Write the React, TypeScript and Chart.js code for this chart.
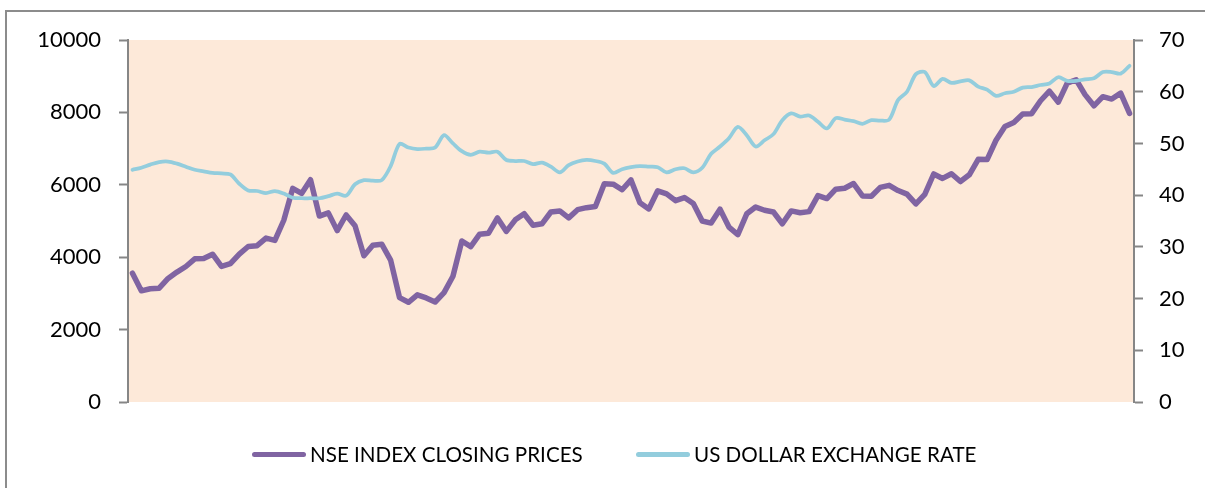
import React, { useEffect, useRef } from "react";
import { Chart, registerables } from "chart.js";

Chart.register(...registerables);

// ---- Data ----
const months: string[] = [
  "Apr-06", "May-06", "Jun-06", "Jul-06", "Aug-06", "Sep-06", "Oct-06", "Nov-06", "Dec-06",
  "Jan-07", "Feb-07", "Mar-07", "Apr-07", "May-07", "Jun-07", "Jul-07", "Aug-07", "Sep-07", "Oct-07", "Nov-07", "Dec-07",
  "Jan-08", "Feb-08", "Mar-08", "Apr-08", "May-08", "Jun-08", "Jul-08", "Aug-08", "Sep-08", "Oct-08", "Nov-08", "Dec-08",
  "Jan-09", "Feb-09", "Mar-09", "Apr-09", "May-09", "Jun-09", "Jul-09", "Aug-09", "Sep-09", "Oct-09", "Nov-09", "Dec-09",
  "Jan-10", "Feb-10", "Mar-10", "Apr-10", "May-10", "Jun-10", "Jul-10", "Aug-10", "Sep-10", "Oct-10", "Nov-10", "Dec-10",
  "Jan-11", "Feb-11", "Mar-11", "Apr-11", "May-11", "Jun-11", "Jul-11", "Aug-11", "Sep-11", "Oct-11", "Nov-11", "Dec-11",
  "Jan-12", "Feb-12", "Mar-12", "Apr-12", "May-12", "Jun-12", "Jul-12", "Aug-12", "Sep-12", "Oct-12", "Nov-12", "Dec-12",
  "Jan-13", "Feb-13", "Mar-13", "Apr-13", "May-13", "Jun-13", "Jul-13", "Aug-13", "Sep-13", "Oct-13", "Nov-13", "Dec-13",
  "Jan-14", "Feb-14", "Mar-14", "Apr-14", "May-14", "Jun-14", "Jul-14", "Aug-14", "Sep-14", "Oct-14", "Nov-14", "Dec-14",
  "Jan-15", "Feb-15", "Mar-15", "Apr-15", "May-15", "Jun-15", "Jul-15", "Aug-15",
];

const nseClosingPrices: number[] = [
  3557, 3071, 3128, 3143, 3413, 3588, 3744, 3955, 3966,
  4082, 3745, 3822, 4087, 4296, 4318, 4528, 4464, 5021, 5900, 5762, 6139,
  5137, 5224, 4734, 5166, 4870, 4040, 4333, 4360, 3921, 2885, 2755, 2959,
  2874, 2763, 3021, 3474, 4449, 4291, 4636, 4662, 5084, 4712, 5033, 5201,
  4882, 4922, 5249, 5278, 5087, 5313, 5368, 5402, 6030, 6018, 5863, 6135,
  5506, 5333, 5834, 5750, 5561, 5647, 5482, 5001, 4943, 5327, 4832, 4624,
  5199, 5385, 5296, 5248, 4924, 5279, 5229, 5259, 5703, 5620, 5880, 5905,
  6035, 5693, 5683, 5930, 5986, 5842, 5742, 5471, 5735, 6299, 6176, 6304,
  6090, 6277, 6704, 6696, 7230, 7611, 7721, 7954, 7965, 8322, 8588, 8283,
  8809, 8902, 8491, 8182, 8434, 8369, 8533, 7971,
];

const usDollarRate: number[] = [
  44.9, 45.3, 45.9, 46.4, 46.5, 46.1, 45.5, 44.9, 44.6,
  44.3, 44.2, 44.0, 42.2, 40.9, 40.8, 40.4, 40.8, 40.3, 39.5, 39.4, 39.4,
  39.4, 39.8, 40.3, 39.9, 42.1, 42.9, 42.8, 42.9, 45.6, 49.9, 49.2, 48.9,
  49.0, 49.2, 51.6, 50.0, 48.5, 47.8, 48.4, 48.2, 48.4, 46.8, 46.6, 46.6,
  46.0, 46.3, 45.5, 44.4, 45.8, 46.5, 46.8, 46.6, 46.1, 44.3, 45.0, 45.4,
  45.6, 45.5, 45.4, 44.4, 45.0, 45.2, 44.4, 45.3, 48.0, 49.4, 51.0, 53.2,
  51.6, 49.4, 50.6, 51.8, 54.5, 55.8, 55.2, 55.4, 54.2, 52.9, 54.9, 54.6,
  54.3, 53.8, 54.5, 54.4, 54.6, 58.4, 60.0, 63.4, 63.8, 61.1, 62.5, 61.7,
  62.0, 62.2, 61.0, 60.4, 59.2, 59.7, 60.0, 60.8, 60.9, 61.3, 61.6, 62.8,
  62.1, 62.1, 62.4, 62.6, 63.8, 63.8, 63.5, 65.0,
];

const leftTicks: number[] = [0, 2000, 4000, 6000, 8000, 10000];
const rightTicks: number[] = [0, 10, 20, 30, 40, 50, 60, 70];

const seriesNames: string[] = ["NSE INDEX CLOSING PRICES", "US DOLLAR EXCHANGE RATE"];

// ---- Style ----
const NSE_COLOR = "#8064A2";
const USD_COLOR = "#93CDDD";
const PLOT_BG = "#FDE9D9";
const AXIS_COLOR = "#868686";
const FONT = "Lato, 'Open Sans', sans-serif";

const plotBackground = {
  id: "plotBackground",
  beforeDraw(chart: any) {
    const { ctx, chartArea } = chart;
    if (!chartArea) return;
    ctx.save();
    ctx.fillStyle = PLOT_BG;
    ctx.fillRect(chartArea.left, chartArea.top, chartArea.right - chartArea.left, chartArea.bottom - chartArea.top);
    ctx.restore();
  },
};

export default function App() {
  const canvasRef = useRef<HTMLCanvasElement | null>(null);

  useEffect(() => {
    if (!canvasRef.current) return;
    const chart = new Chart(canvasRef.current, {
      type: "line",
      data: {
        labels: months,
        datasets: [
          {
            label: seriesNames[0],
            data: nseClosingPrices,
            yAxisID: "y",
            borderColor: NSE_COLOR,
            backgroundColor: NSE_COLOR,
            borderWidth: 5.5,
            pointRadius: 0,
            pointHoverRadius: 0,
            tension: 0,
            borderJoinStyle: "round",
            borderCapStyle: "round",
            order: 2,
          },
          {
            label: seriesNames[1],
            data: usDollarRate,
            yAxisID: "y1",
            borderColor: USD_COLOR,
            backgroundColor: USD_COLOR,
            borderWidth: 3.75,
            pointRadius: 0,
            pointHoverRadius: 0,
            tension: 0.3,
            borderJoinStyle: "round",
            borderCapStyle: "round",
            order: 1,
          },
        ],
      },
      options: {
        animation: false,
        responsive: false,
        maintainAspectRatio: false,
        devicePixelRatio: 1,
        layout: { padding: { top: 40, bottom: 86, left: 0, right: 0 } },
        plugins: {
          legend: { display: false },
          tooltip: { enabled: false },
        },
        scales: {
          x: {
            type: "category",
            display: false,
            offset: true,
          },
          y: {
            position: "left",
            min: 0,
            max: 10000,
            afterBuildTicks: (scale: any) => {
              scale.ticks = leftTicks.map((v) => ({ value: v }));
            },
            afterFit: (scale: any) => {
              scale.width = 128;
            },
            ticks: {
              color: "#000",
              padding: 18,
              font: { family: FONT, size: 22 },
              callback: (v: any) => String(v),
            },
            grid: {
              drawOnChartArea: false,
              drawTicks: true,
              tickLength: 9,
              tickWidth: 2,
              tickColor: AXIS_COLOR,
            },
            border: { display: true, color: AXIS_COLOR, width: 2 },
          },
          y1: {
            position: "right",
            min: 0,
            max: 70,
            afterBuildTicks: (scale: any) => {
              scale.ticks = rightTicks.map((v) => ({ value: v }));
            },
            afterFit: (scale: any) => {
              scale.width = 71;
            },
            ticks: {
              color: "#000",
              padding: 16,
              font: { family: FONT, size: 22 },
              callback: (v: any) => String(v),
            },
            grid: {
              drawOnChartArea: false,
              drawTicks: true,
              tickLength: 9,
              tickWidth: 2,
              tickColor: AXIS_COLOR,
            },
            border: { display: true, color: AXIS_COLOR, width: 2 },
          },
        },
      } as any,
      plugins: [plotBackground],
    });
    return () => chart.destroy();
  }, []);

  const legendText: React.CSSProperties = {
    position: "absolute",
    top: 444,
    fontFamily: FONT,
    fontSize: 20.6,
    lineHeight: "21px",
    color: "#000",
    whiteSpace: "nowrap",
  };
  const legendBar: React.CSSProperties = {
    position: "absolute",
    top: 452,
    width: 54,
    height: 5,
    borderRadius: 2.5,
  };

  return (
    <div
      style={{
        position: "fixed",
        left: 0,
        top: 0,
        width: 1205,
        height: 488,
        overflow: "hidden",
        background: "#fff",
      }}
    >
      <div
        style={{
          position: "absolute",
          left: 5,
          top: 10,
          width: 1240,
          height: 540,
          border: "2px solid #8c8c8c",
          boxSizing: "border-box",
        }}
      />
      <canvas
        ref={canvasRef}
        width={1205}
        height={488}
        style={{ position: "absolute", left: 0, top: 0, width: 1205, height: 488 }}
      />
      <div style={{ ...legendBar, left: 252, background: NSE_COLOR }} />
      <div style={{ ...legendText, left: 310 }}>{seriesNames[0]}</div>
      <div style={{ ...legendBar, left: 636, background: USD_COLOR }} />
      <div style={{ ...legendText, left: 694 }}>{seriesNames[1]}</div>
    </div>
  );
}
